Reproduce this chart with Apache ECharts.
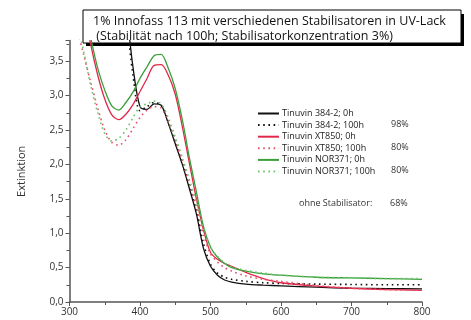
<!DOCTYPE html>
<html><head><meta charset="utf-8">
<script src="https://cdn.jsdelivr.net/npm/echarts@6/dist/echarts.min.js"></script>
<style>html,body{margin:0;padding:0;background:#fff}#c{width:471px;height:320px}</style>
</head><body><div id="c"></div>
<script>
const wavelengths = [300,310,320,330,340,350,360,370,380,390,400,410,420,430,440,450,460,470,480,490,500,510,520,530,550,575,600,650,700,750,800];
const t384_0h   = [6,6,6,6,6,6,5.8,5.0,4.3,3.42,2.84,2.80,2.88,2.86,2.6,2.3,2.0,1.65,1.28,0.78,0.52,0.39,0.32,0.29,0.26,0.245,0.235,0.215,0.2,0.195,0.19];
const t384_100h = [6,6,6,6,6,6,5.8,5.0,4.2,3.3,2.78,2.84,2.9,2.86,2.62,2.32,2.02,1.68,1.32,0.85,0.55,0.42,0.36,0.33,0.3,0.28,0.27,0.26,0.255,0.25,0.25];
const xt850_0h  = [6,5,4.3,3.75,3.3,2.95,2.72,2.65,2.73,2.87,3.06,3.25,3.44,3.45,3.3,3.02,2.55,2.02,1.5,1.05,0.72,0.62,0.56,0.52,0.43,0.34,0.28,0.23,0.2,0.18,0.17];
const xt850_100h= [4.5,4.0,3.6,3.2,2.82,2.5,2.32,2.28,2.36,2.52,2.68,2.79,2.84,2.82,2.62,2.35,2.05,1.72,1.38,0.98,0.7,0.58,0.5,0.45,0.38,0.33,0.3,0.24,0.2,0.18,0.17];
const nor371_0h = [6,5,4.4,3.85,3.4,3.08,2.85,2.79,2.9,3.05,3.25,3.42,3.58,3.6,3.4,3.1,2.65,2.1,1.6,1.1,0.8,0.65,0.56,0.5,0.45,0.41,0.39,0.36,0.35,0.34,0.33];
const nor371_100h=[4.6,4.1,3.65,3.15,2.75,2.45,2.34,2.38,2.5,2.68,2.84,2.88,2.92,2.88,2.68,2.4,2.1,1.78,1.45,1.08,0.8,0.66,0.57,0.51,0.46,0.42,0.39,0.36,0.35,0.34,0.34];
const seriesNames = ['Tinuvin 384-2; 0h','Tinuvin 384-2; 100h','Tinuvin XT850; 0h','Tinuvin XT850; 100h','Tinuvin NOR371; 0h','Tinuvin NOR371; 100h'];
const percentLabels = ['', '98%', '', '80%', '', '80%'];
const titleLines = ['1% Innofass 113 mit verschiedenen Stabilisatoren in UV-Lack', ' (Stabilität nach 100h; Stabilisatorkonzentration 3%)'];

const values = [t384_0h, t384_100h, xt850_0h, xt850_100h, nor371_0h, nor371_100h];
const colors = ['#111111','#111111','#e0284a','#e8506a','#3a9f3a','#6cc46c'];
const FONT = 'Open Sans';
const series = values.map((v,i)=>({
  name: seriesNames[i], type:'line', symbol:'none', smooth:0.3, clip:true,
  data: wavelengths.map((w,j)=>[w,v[j]]),
  lineStyle:{color:colors[i], width: i%2===0?1.3:1.6, type: i%2===0?'solid':[1.6,3.6], cap:'butt'},
  itemStyle:{color:colors[i]}
}));
const chart = echarts.init(document.getElementById('c'));
const gfx = [
  {type:'rect', shape:{x:86,y:14,width:378,height:32}, style:{fill:'#000'}},
  {type:'rect', shape:{x:83,y:10,width:378,height:33}, style:{fill:'#fff', stroke:'#000', lineWidth:1}},
  {type:'text', left:93, top:15, style:{text:titleLines[0], font:'12.5px "'+FONT+'"', fill:'#111'}},
  {type:'text', left:93, top:30, style:{text:titleLines[1], font:'12.5px "'+FONT+'"', fill:'#111'}},
  {type:'text', left:299, top:199, style:{text:'ohne Stabilisator:', font:'9px "'+FONT+'"', fill:'#333'}},
  {type:'text', left:390, top:199, style:{text:'68%', font:'9px "'+FONT+'"', fill:'#333'}}
];
percentLabels.forEach((p,i)=>{ if(p) gfx.push({type:'text', left:391, top:108+i*11.6, style:{text:p, font:'9px "'+FONT+'"', fill:'#333'}}); });
chart.setOption({
  animation:false,
  grid:{left:69.5, right:49, top:40.6, bottom:18},
  legend:{orient:'vertical', left:252, top:104, itemWidth:21, itemHeight:8, itemGap:2.6,
    itemStyle:{opacity:0},
    textStyle:{fontFamily:FONT, fontSize:9, lineHeight:8, color:'#222', padding:[0,0,0,-2]}, data:seriesNames},
  xAxis:{type:'value', min:300, max:800, interval:100, splitLine:{show:false},
    axisLine:{lineStyle:{color:'#555', width:1.5}}, axisTick:{length:4, lineStyle:{color:'#555'}},
    minorTick:{show:true, splitNumber:2, length:3, lineStyle:{color:'#555'}},
    axisLabel:{fontFamily:FONT, fontSize:10, color:'#333', margin:5}},
  yAxis:{type:'value', min:0, max:3.8, interval:0.5, splitLine:{show:false},
    name:'Extinktion', nameLocation:'middle', nameGap:42, nameRotate:90,
    nameTextStyle:{fontFamily:FONT, fontSize:11, color:'#333'},
    axisLine:{show:true, lineStyle:{color:'#555', width:1.5}}, axisTick:{show:true, length:4, lineStyle:{color:'#555'}},
    minorTick:{show:true, splitNumber:2, length:3, lineStyle:{color:'#555'}},
    axisLabel:{fontFamily:FONT, fontSize:10, color:'#333', margin:6, showMaxLabel:false,
      formatter:v=>v.toFixed(1).replace('.',',')}},
  series: series,
  graphic: gfx
});
</script></body></html>
